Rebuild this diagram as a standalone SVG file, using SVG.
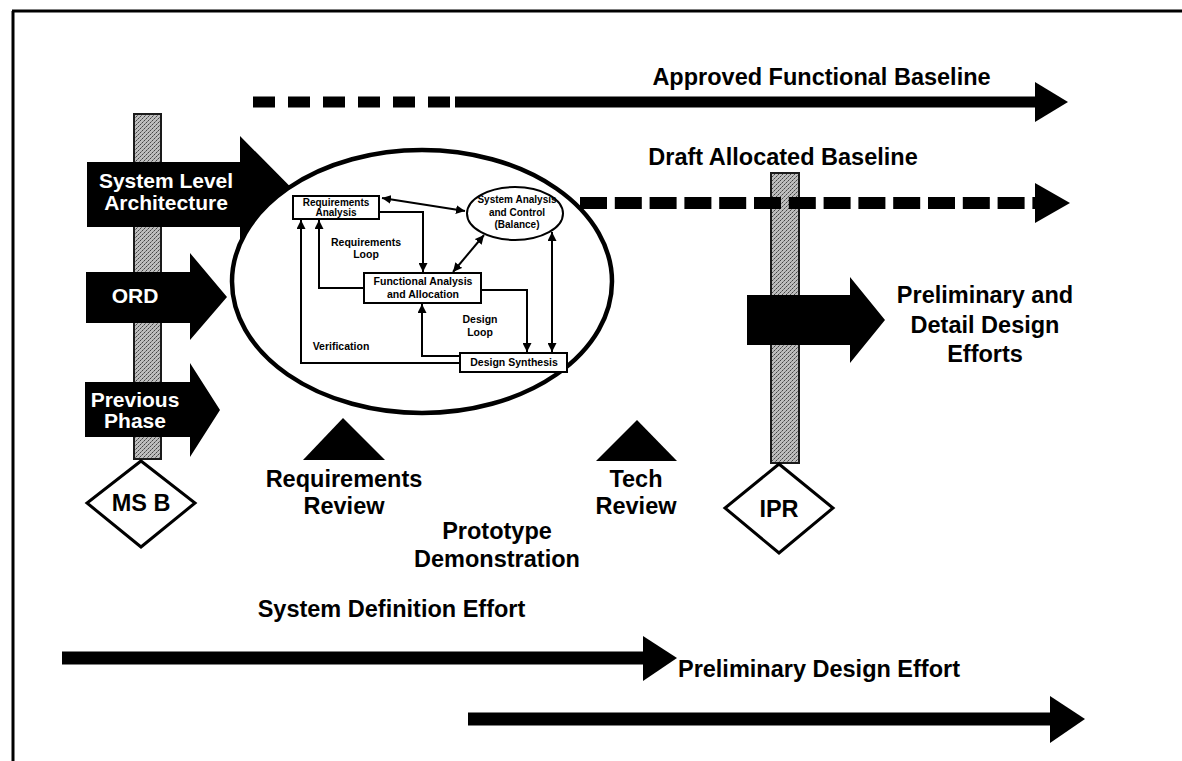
<svg xmlns="http://www.w3.org/2000/svg" width="1182" height="761" viewBox="0 0 1182 761">
<defs>
<style>
.t{font-family:"Liberation Sans",Arial,Helvetica,sans-serif;font-weight:bold;fill:#000;text-anchor:middle}
.big{font-size:23.5px}
.wt{font-family:"Liberation Sans",Arial,Helvetica,sans-serif;font-weight:bold;fill:#fff;text-anchor:middle;font-size:21px}
.sm{font-size:10.5px}
.xs{font-size:10px}
.blk{fill:#000}
.bar{fill:url(#stip);stroke:#1a1a1a;stroke-width:2}
.box{fill:#fff;stroke:#000;stroke-width:2}
.con{fill:none;stroke:#000;stroke-width:2}
.thick{fill:none;stroke:#000}
</style>
<pattern id="stip" width="4" height="4" patternUnits="userSpaceOnUse">
<rect width="4" height="4" fill="#bdbdbd"/>
<rect x="0" y="0" width="1" height="1" fill="#444"/>
<rect x="2" y="2" width="1" height="1" fill="#444"/>
<rect x="1" y="3" width="1" height="1" fill="#777"/>
<rect x="3" y="1" width="1" height="1" fill="#777"/>
</pattern>
<marker id="ah" viewBox="0 0 10 10" refX="10" refY="5" markerWidth="4.5" markerHeight="4.5" orient="auto-start-reverse">
<path d="M0,0 L10,5 L0,10 z" fill="#000"/>
</marker>
</defs>
<rect width="1182" height="761" fill="#fff"/>
<g id="frame"><path d="M12 11 H1182 M13 11 V761" fill="none" stroke="#000" stroke-width="3"/></g>

<g id="bar-msb"><rect class="bar" x="134" y="114" width="27" height="345"/></g>
<g id="bar-ipr"><rect class="bar" x="771" y="173" width="28" height="290"/></g>

<g id="arrow-sla">
<polygon class="blk" points="87,162 240,162 240,136 298,194.5 240,253 240,227 87,227"/>
<text class="wt" x="166" y="188">System Level</text>
<text class="wt" x="166" y="210">Architecture</text>
</g>
<g id="arrow-ord">
<polygon class="blk" points="86,272 190,272 190,253 227,297 190,340 190,323 86,323"/>
<text class="wt" x="135" y="303">ORD</text>
</g>
<g id="arrow-prev">
<polygon class="blk" points="85,382 190,382 190,363 220,410 190,457 190,437 85,437"/>
<text class="wt" x="135" y="407">Previous</text>
<text class="wt" x="135" y="428">Phase</text>
</g>
<g id="ms-b">
<polygon points="141,461 195,503 141,547 87,503" fill="#fff" stroke="#000" stroke-width="3"/>
<text class="t big" x="141" y="511">MS B</text>
</g>

<g id="se-process">
<ellipse cx="422" cy="281.5" rx="190" ry="131.5" fill="#fff" stroke="#000" stroke-width="4.5"/>
</g>

<g id="req-analysis">
<rect class="box" x="293" y="196" width="86" height="23"/>
<text class="t xs" x="336" y="206">Requirements</text>
<text class="t xs" x="336" y="216">Analysis</text>
</g>
<g id="sys-analysis">
<ellipse cx="515" cy="213.5" rx="48" ry="26.5" fill="#fff" stroke="#000" stroke-width="2"/>
<text class="t xs" x="517" y="203">System Analysis</text>
<text class="t xs" x="517" y="216">and Control</text>
<text class="t xs" x="517" y="228">(Balance)</text>
</g>
<g id="func-analysis">
<rect class="box" x="364" y="273" width="117" height="30"/>
<text class="t sm" x="423" y="285">Functional Analysis</text>
<text class="t sm" x="423" y="298">and Allocation</text>
</g>
<g id="design-synthesis">
<rect class="box" x="460" y="353" width="107" height="19"/>
<text class="t sm" x="514" y="366">Design Synthesis</text>
</g>

<g id="connectors">
<path class="con" d="M382 198 L465 211" marker-start="url(#ah)" marker-end="url(#ah)"/>
<path class="con" d="M379 212 H423 V272" marker-end="url(#ah)"/>
<path class="con" d="M453 272 L484 235" marker-start="url(#ah)" marker-end="url(#ah)"/>
<path class="con" d="M364 288 H319 V220" marker-end="url(#ah)"/>
<path class="con" d="M460 363 H301 V220" marker-end="url(#ah)"/>
<path class="con" d="M460 356 H422 V304" marker-end="url(#ah)"/>
<path class="con" d="M481 290 H527 V352" marker-end="url(#ah)"/>
<path class="con" d="M552 232 V352" marker-start="url(#ah)" marker-end="url(#ah)"/>

<path class="thick" d="M253 102 H451" stroke-width="11" stroke-dasharray="22 13"/>
<path class="thick" d="M455 102 H1036" stroke-width="11"/>
<polygon class="blk" points="1035,82 1068,102 1035,122"/>

<path class="thick" d="M580 203 H1036" stroke-width="12" stroke-dasharray="27 7.8"/>
<polygon class="blk" points="1035,183 1070,203 1035,223"/>

<path class="thick" d="M62 658 H645" stroke-width="13"/>
<polygon class="blk" points="643,636 677,658 643,681"/>

<path class="thick" d="M468 719 H1052" stroke-width="13"/>
<polygon class="blk" points="1050,696 1085,719 1050,743"/>
</g>

<g id="loop-labels">
<text class="t sm" x="366" y="246">Requirements</text>
<text class="t sm" x="366" y="258">Loop</text>
<text class="t sm" x="480" y="323">Design</text>
<text class="t sm" x="480" y="336">Loop</text>
<text class="t sm" x="341" y="350">Verification</text>
</g>

<g id="baseline-labels">
<text class="t big" x="821.5" y="85">Approved Functional Baseline</text>
<text class="t big" x="783" y="165">Draft Allocated Baseline</text>
</g>

<g id="arrow-detail">
<polygon class="blk" points="747,295 850,295 850,277 885,320 850,363 850,345 747,345"/>
</g>
<g id="detail-label">
<text class="t big" x="985" y="303">Preliminary and</text>
<text class="t big" x="985" y="333">Detail Design</text>
<text class="t big" x="985" y="362">Efforts</text>
</g>

<g id="ipr">
<polygon points="779,464 833,508 779,553 725,508" fill="#fff" stroke="#000" stroke-width="3"/>
<text class="t big" x="779" y="517">IPR</text>
</g>

<g id="req-review">
<polygon class="blk" points="343,418 385,460 303,460"/>
<text class="t big" x="344" y="487">Requirements</text>
<text class="t big" x="344" y="514">Review</text>
</g>
<g id="tech-review">
<polygon class="blk" points="637,420 677,461 596,461"/>
<text class="t big" x="636" y="487">Tech</text>
<text class="t big" x="636" y="514">Review</text>
</g>
<g id="prototype">
<text class="t big" x="497" y="539">Prototype</text>
<text class="t big" x="497" y="567">Demonstration</text>
</g>

<g id="effort-labels">
<text class="t big" x="391.5" y="617">System Definition Effort</text>
<text class="t big" x="819" y="677">Preliminary Design Effort</text>
</g>
</svg>
